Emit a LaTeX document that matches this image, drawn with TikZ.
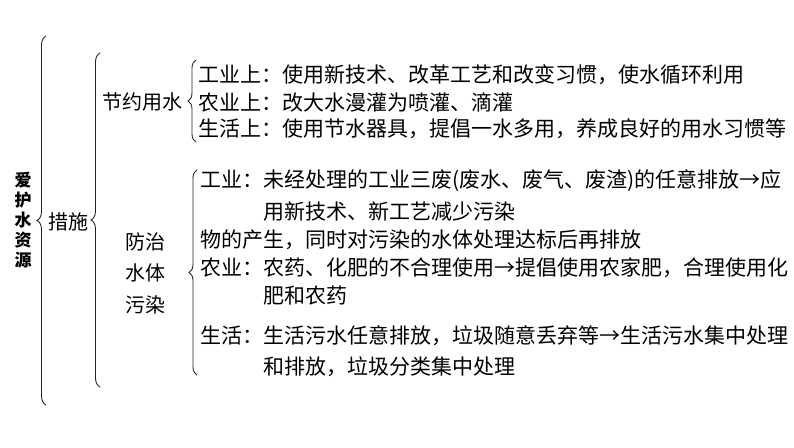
\documentclass[tikz,border=0pt]{standalone}
\usepackage{fontspec}
\setmainfont{Noto Sans CJK SC}
\usetikzlibrary{decorations.pathreplacing}
\begin{document}
\begin{tikzpicture}[x=1pt,y=-1pt,
  txt/.style={anchor=west,inner sep=0pt,font=\fontsize{21pt}{21pt}\selectfont},
  lbl/.style={anchor=center,inner sep=0pt,align=center,font=\fontsize{20pt}{31.5pt}\selectfont},
  br/.style={draw=black!85,line width=0.9pt,decorate,decoration={brace,amplitude=#1}},
]
\useasboundingbox (0,0) rectangle (794,447);
\fill[white] (0,0) rectangle (794,447);

% labels of the tree
\node[anchor=center,inner sep=0pt,align=center,font=\bfseries\fontsize{17pt}{20pt}\selectfont] (root) at (23,220) {爱\\护\\水\\资\\源};
\node[txt,font=\fontsize{20pt}{20pt}\selectfont] (cuoshi) at (48,222) {措施};
\node[txt,font=\fontsize{20pt}{20pt}\selectfont] (jieyue) at (102,102) {节约用水};
\node[lbl] (fangzhi) at (145,273) {防治\\水体\\污染};

% saving water
\node[txt] (s1) at (198,75) {工业上：使用新技术、改革工艺和改变习惯，使水循环利用};
\node[txt] (s2) at (198,102) {农业上：改大水漫灌为喷灌、滴灌};
\node[txt] (s3) at (198,129) {生活上：使用节水器具，提倡一水多用，养成良好的用水习惯等};

% preventing pollution
\node[txt] (p1) at (200,181) {工业：未经处理的工业三废(废水、废气、废渣)的任意排放→应};
\node[txt] (p2) at (263,212) {用新技术、新工艺减少污染};
\node[txt] (p3) at (200,240) {物的产生，同时对污染的水体处理达标后再排放};
\node[txt] (p4) at (200,268) {农业：农药、化肥的不合理使用→提倡使用农家肥，合理使用化};
\node[txt] (p5) at (263,296) {肥和农药};
\node[txt] (p6) at (200,336) {生活：生活污水任意排放，垃圾随意丢弃等→生活污水集中处理};
\node[txt] (p7) at (263,367) {和排放，垃圾分类集中处理};

% brace ends
\coordinate (b1t) at (46,36);
\coordinate (b1b) at (46,405);
\coordinate (b2t) at (100,53);
\coordinate (b2b) at (100,387);
\coordinate (b3t) at (196,60);
\coordinate (b3b) at (196,142);
\coordinate (b4t) at (197,170);
\coordinate (b4b) at (197,375);

\draw[br=9pt] (b1b) -- (b1t);
\draw[br=9pt] (b2b) -- (b2t);
\draw[br=8pt] (b3b) -- (b3t);
\draw[br=8pt] (b4b) -- (b4t);
\end{tikzpicture}
\end{document}
